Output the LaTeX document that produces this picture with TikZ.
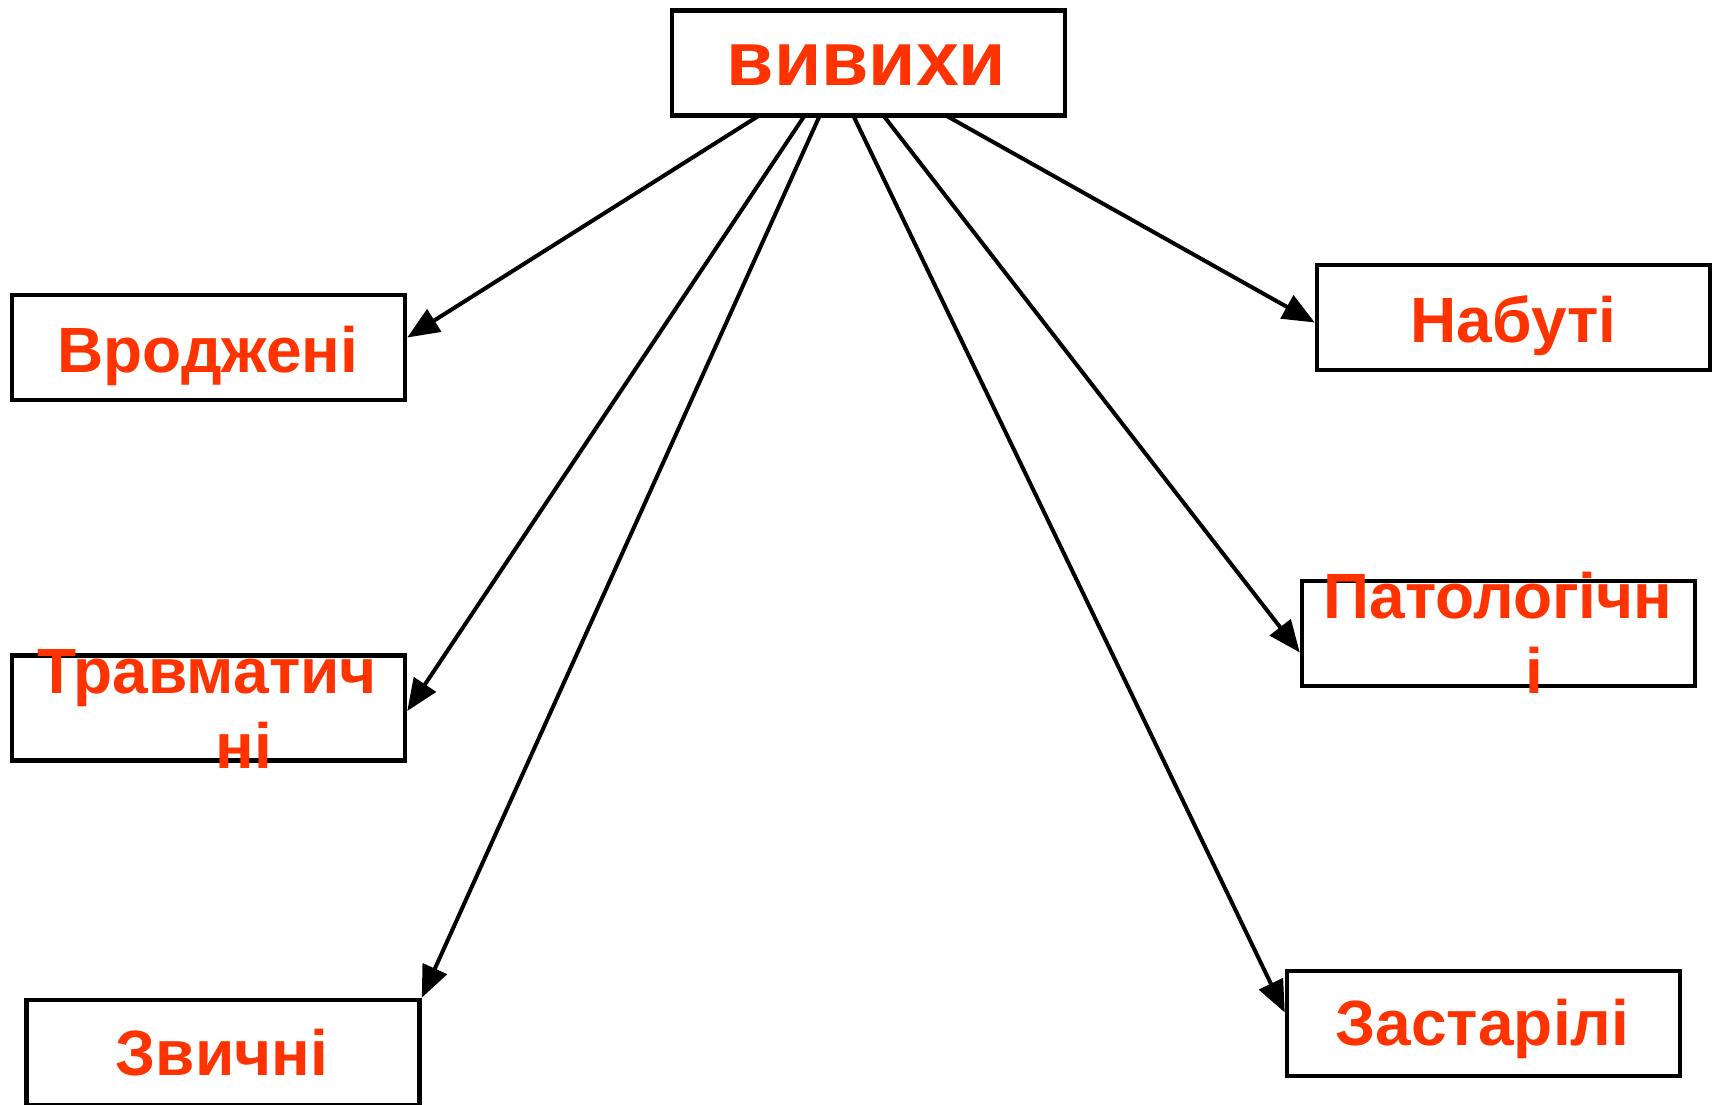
\documentclass[tikz,border=0pt]{standalone}
\usepackage{fontspec}
\setmainfont{Liberation Sans}
\usetikzlibrary{arrows.meta}
\definecolor{lbl}{HTML}{FF3300}
\tikzset{
  box/.style={draw=black, line width=4.5pt, minimum width=393pt, minimum height=105pt, inner sep=0pt},
  lab/.style={text=lbl, font=\bfseries\fontsize{64}{77}\selectfont, anchor=base, inner sep=0pt},
  conn/.style={line width=4pt, -{Triangle[length=32pt,width=26pt]}}
}
\begin{document}
\begin{tikzpicture}[x=1pt,y=-1pt]
\useasboundingbox (0,0) rectangle (1721,1104);
% boxes
\node[box] (top) at (868.5,63) {};
\node[box] (vr) at (208.5,347.5) {};
\node[box] (tr) at (208.5,708) {};
\node[box] (zv) at (223,1052.5) {};
\node[box] (nb) at (1513.5,317.5) {};
\node[box] (pt) at (1498.5,633.5) {};
\node[box] (zs) at (1483.5,1023.5) {};
% labels
\node[lab, font=\bfseries\fontsize{77}{92}\selectfont] (ttop) at (866.5,85) {вивихи};
\node[lab] (tvr) at (208,372) {Вроджені};
\node[lab] (ttr1) at (207,693) {Травматич};
\node[lab] (ttr2) at (244,768) {ні};
\node[lab] (tzv) at (222,1075) {Звичні};
\node[lab] (tnb) at (1513.5,342) {Набуті};
\node[lab] (tpt1) at (1498,618) {Патологічн};
\node[lab] (tpt2) at (1534,693) {і};
\node[lab] (tzs) at (1482.5,1045) {Застарілі};
% start points on the bottom edge of the top box
\coordinate (s1) at (760,115);
\coordinate (s2) at (805,115);
\coordinate (s3) at (820,115);
\coordinate (s4) at (853,115);
\coordinate (s5) at (883,115);
\coordinate (s6) at (945,115);
% connectors
\draw[conn] (s1) -- ([yshift=10pt]vr.east);
\draw[conn] (s2) -- ([yshift=-3pt]tr.east);
\draw[conn] (s3) -- (zv.north east);
\draw[conn] (s4) -- ([yshift=11pt]zs.west);
\draw[conn] (s5) -- ([yshift=-19pt]pt.west);
\draw[conn] (s6) -- ([yshift=-5pt]nb.west);
\end{tikzpicture}
\end{document}
